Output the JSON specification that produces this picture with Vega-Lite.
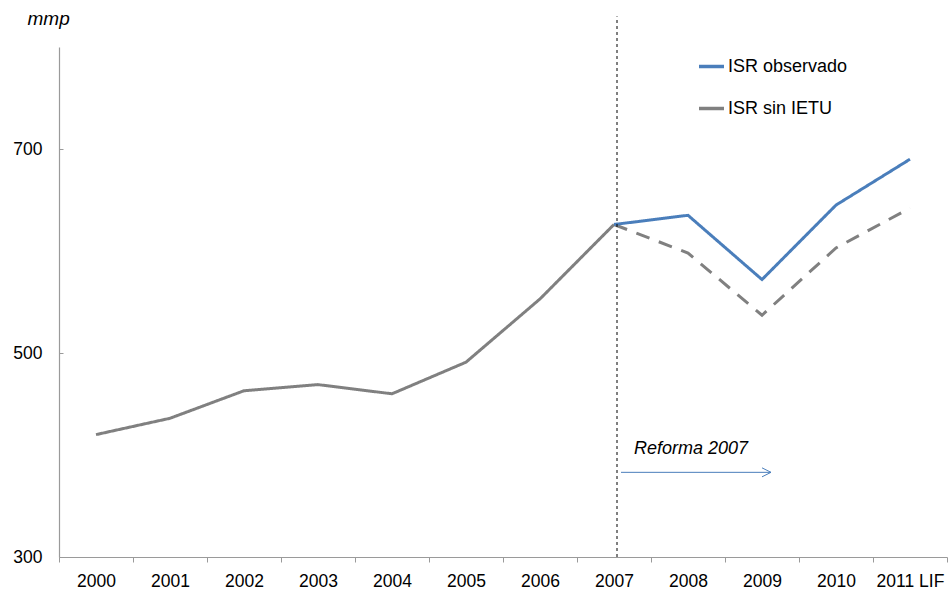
{
  "$schema": "https://vega.github.io/schema/vega-lite/v6.json",
  "width": 888,
  "height": 510,
  "autosize": "none",
  "padding": {"left": 59, "top": 47, "right": 1, "bottom": 37},
  "background": "white",
  "config": {
    "view": {"stroke": null},
    "font": "Liberation Sans"
  },
  "datasets": {
    "series": [
      {"year": "2000", "serie": "ISR sin IETU", "segment": "base", "value": 420},
      {"year": "2001", "serie": "ISR sin IETU", "segment": "base", "value": 436},
      {"year": "2002", "serie": "ISR sin IETU", "segment": "base", "value": 463},
      {"year": "2003", "serie": "ISR sin IETU", "segment": "base", "value": 469},
      {"year": "2004", "serie": "ISR sin IETU", "segment": "base", "value": 460},
      {"year": "2005", "serie": "ISR sin IETU", "segment": "base", "value": 491},
      {"year": "2006", "serie": "ISR sin IETU", "segment": "base", "value": 553},
      {"year": "2007", "serie": "ISR sin IETU", "segment": "base", "value": 626},
      {"year": "2007", "serie": "ISR sin IETU", "segment": "dash", "value": 626},
      {"year": "2008", "serie": "ISR sin IETU", "segment": "dash", "value": 598},
      {"year": "2009", "serie": "ISR sin IETU", "segment": "dash", "value": 537},
      {"year": "2010", "serie": "ISR sin IETU", "segment": "dash", "value": 603},
      {"year": "2011 LIF", "serie": "ISR sin IETU", "segment": "dash", "value": 642},
      {"year": "2007", "serie": "ISR observado", "segment": "obs", "value": 626},
      {"year": "2008", "serie": "ISR observado", "segment": "obs", "value": 635},
      {"year": "2009", "serie": "ISR observado", "segment": "obs", "value": 572},
      {"year": "2010", "serie": "ISR observado", "segment": "obs", "value": 645},
      {"year": "2011 LIF", "serie": "ISR observado", "segment": "obs", "value": 690}
    ],
    "vline": [{"year": "2007", "lo": 300, "hi": 830}],
    "arrow": [{"year": "2007", "year2": "2009", "value": 383}],
    "label": [{"year": "2007", "value": 406, "text": "Reforma 2007"}]
  },
  "encoding": {
    "x": {
      "field": "year",
      "type": "ordinal",
      "sort": ["2000","2001","2002","2003","2004","2005","2006","2007","2008","2009","2010","2011 LIF"],
      "scale": {"type": "band", "domain": ["2000","2001","2002","2003","2004","2005","2006","2007","2008","2009","2010","2011 LIF"], "paddingInner": 0, "paddingOuter": 0},
      "axis": {
        "title": null,
        "labelAngle": 0,
        "labelFontSize": 17.5,
        "labelColor": "#000000",
        "labelPadding": 10,
        "domainColor": "#9a9a9a",
        "domainWidth": 1.2,
        "tickColor": "#9a9a9a",
        "tickSize": 5,
        "tickBand": "extent",
        "grid": false
      }
    }
  },
  "layer": [
    {
      "data": {"name": "series"},
      "mark": {"type": "line", "strokeWidth": 3, "clip": false},
      "encoding": {
        "y": {
          "field": "value",
          "type": "quantitative",
          "scale": {"domain": [300, 800], "nice": false, "zero": false},
          "axis": {
            "values": [300, 500, 700],
            "title": "mmp",
            "titleAngle": 0,
            "titleX": -32,
            "titleY": -29,
            "titleAlign": "left",
            "titleBaseline": "middle",
            "titleFontSize": 19,
            "titleFontStyle": "italic",
            "titleFontWeight": "normal",
            "titleColor": "#000000",
            "labelFontSize": 17.5,
            "labelColor": "#000000",
            "labelPadding": 21,
            "domainColor": "#9a9a9a",
            "domainWidth": 1.2,
            "tickColor": "#9a9a9a",
            "tickSize": -4,
            "grid": false
          }
        },
        "color": {
          "field": "serie",
          "type": "nominal",
          "scale": {"domain": ["ISR observado", "ISR sin IETU"], "range": ["#4a7ebb", "#808080"]},
          "legend": {
            "title": null,
            "orient": "none",
            "legendX": 638,
            "legendY": 5,
            "symbolType": "stroke",
            "symbolSize": 625,
            "symbolStrokeWidth": 3.5,
            "labelFontSize": 18,
            "labelColor": "#000000",
            "labelOffset": 2,
            "rowPadding": 18,
            "padding": 0
          }
        },
        "detail": {"field": "segment"},
        "strokeDash": {
          "field": "segment",
          "type": "nominal",
          "scale": {"domain": ["base", "dash", "obs"], "range": [[1, 0], [14, 10], [1, 0]]},
          "legend": null
        },
        "order": {"field": "year"}
      }
    },
    {
      "data": {"name": "vline"},
      "mark": {"type": "rule", "color": "#000000", "strokeWidth": 1, "strokeDash": [3, 3], "xOffset": 3, "clip": false},
      "encoding": {
        "y": {"field": "lo", "type": "quantitative"},
        "y2": {"field": "hi"}
      }
    },
    {
      "data": {"name": "arrow"},
      "mark": {"type": "rule", "color": "#4a7ebb", "strokeWidth": 1, "xOffset": 7, "x2Offset": 9},
      "encoding": {
        "x2": {"field": "year2"},
        "y": {"field": "value", "type": "quantitative"}
      }
    },
    {
      "data": {"name": "arrow"},
      "mark": {"type": "point", "shape": "M-1,-0.5L0,0L-1,0.5", "size": 324, "filled": false, "stroke": "#4a7ebb", "strokeWidth": 1, "opacity": 1, "xOffset": 9},
      "encoding": {
        "x": {"field": "year2", "type": "ordinal"},
        "y": {"field": "value", "type": "quantitative"}
      }
    },
    {
      "data": {"name": "label"},
      "mark": {"type": "text", "align": "left", "baseline": "middle", "fontSize": 18, "fontStyle": "italic", "color": "#000000", "xOffset": 20},
      "encoding": {
        "y": {"field": "value", "type": "quantitative"},
        "text": {"field": "text"}
      }
    }
  ]
}
